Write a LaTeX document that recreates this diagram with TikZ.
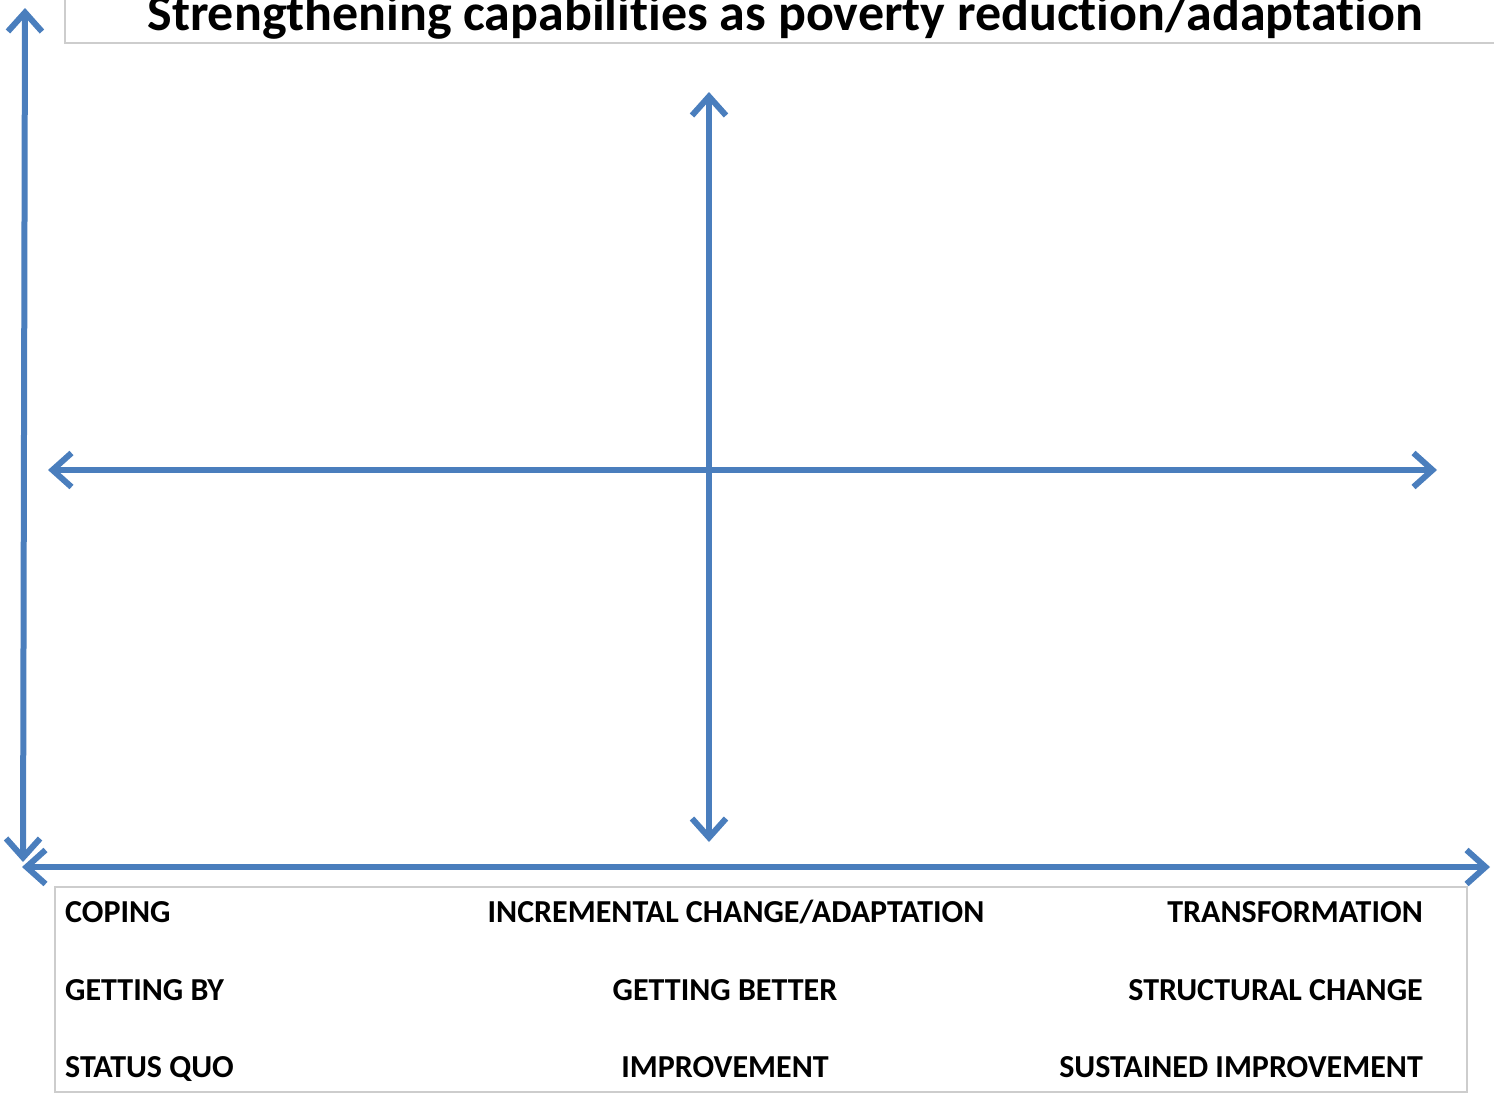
\documentclass[tikz,border=0pt]{standalone}
\usepackage{fontspec}
\setmainfont{Carlito}[Ligatures=CommonOff]
\usetikzlibrary{arrows.meta}
\definecolor{axisblue}{RGB}{74,126,189}
\definecolor{boxgray}{RGB}{205,205,205}

\begin{document}
\begin{tikzpicture}[x=1pt,y=-1pt,
		axis/.style={draw=axisblue,line width=6pt,
			{Straight Barb[length=19pt,width=34pt]}-{Straight Barb[length=19pt,width=34pt]}},
		lbl/.style={font=\fontsize{32}{38}\selectfont\bfseries,inner sep=0pt},
		frame/.style={draw=boxgray,line width=1.2pt}]
			\useasboundingbox (0,0) rectangle (1494,1095);

			% title box, cut by the page edge
			\coordinate (tA) at (65,0);
			\coordinate (tB) at (65,43);
			\coordinate (tC) at (1494,43);
			\draw[frame] (tA) -- (tB) -- (tC);
			\node[font=\fontsize{52}{58}\selectfont\bfseries,inner sep=0pt,anchor=base] (title) at (785,30)
				{Strengthening capabilities as poverty reduction/adaptation};

			% outer axes
			\coordinate (yT) at (25,8);
			\coordinate (yB) at (23,862);
			\coordinate (xL) at (22,867);
			\coordinate (xR) at (1490,867);
			\draw[axis] (yB) -- (yT);
			\draw[axis] (xL) -- (xR);

			% inner cross
			\coordinate (mT) at (709,92);
			\coordinate (mB) at (709,842);
			\coordinate (mL) at (48,470);
			\coordinate (mR) at (1437,470);
			\draw[axis] (mB) -- (mT);
			\draw[axis] (mL) -- (mR);

			% label box
			\draw[frame] (55,887) rectangle (1467,1092);

			\node[lbl,anchor=base west] (l1) at (65,922) {COPING};
			\node[lbl,anchor=base west] (l2) at (65,1000) {GETTING BY};
			\node[lbl,anchor=base west] (l3) at (65,1077) {STATUS QUO};

			\node[lbl,anchor=base] (c1) at (736,922) {INCREMENTAL CHANGE/ADAPTATION};
			\node[lbl,anchor=base] (c2) at (725,1000) {GETTING BETTER};
			\node[lbl,anchor=base] (c3) at (725,1077) {IMPROVEMENT};

			\node[lbl,anchor=base east] (r1) at (1423,922) {TRANSFORMATION};
			\node[lbl,anchor=base east] (r2) at (1423,1000) {STRUCTURAL CHANGE};
			\node[lbl,anchor=base east] (r3) at (1423,1077) {SUSTAINED IMPROVEMENT};
		\end{tikzpicture}
\end{document}
